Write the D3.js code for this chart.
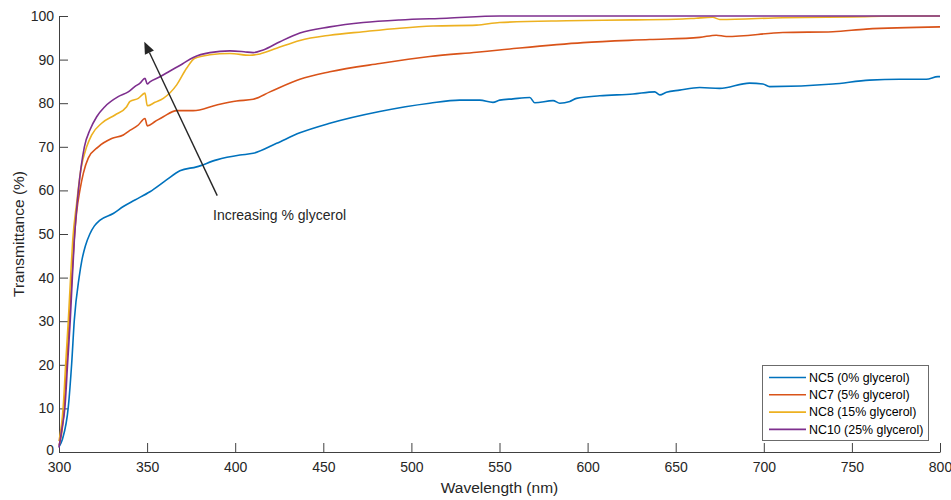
<!DOCTYPE html>
<html>
<head>
    <meta charset="UTF-8">
    <title>Transmittance</title>
    <script src="https://cdn.jsdelivr.net/npm/d3@7"></script>
    <style>
        body {
            margin: 0;
            background: #fff;
            font-family: 'Liberation Sans', Arial, sans-serif;
        }
        .tick text {
            font-size: 14px;
            fill: #262626;
        }
        .axis-label {
            font-size: 15.5px;
            fill: #262626;
        }
        .legend text {
            font-size: 12.4px;
            fill: #000;
        }
    </style>
</head>
<body>
<div id="chart"></div>
<script>
    // tick values
    const xTicks = [300, 350, 400, 450, 500, 550, 600, 650, 700, 750, 800];
    const yTicks = [0, 10, 20, 30, 40, 50, 60, 70, 80, 90, 100];

    // series names and colours
    const seriesNames = ["NC5 (0% glycerol)", "NC7 (5% glycerol)", "NC8 (15% glycerol)", "NC10 (25% glycerol)"];
    const seriesColors = ["#0072BD", "#D95319", "#EDB120", "#7E2F8E"];

    // NC5
    const nc5Wl = [300, 302, 305.3, 307.2, 308.7, 311.4, 313, 315, 317.5, 320, 323.3, 330.8, 336.5, 343.1, 351.6, 361, 368.6, 378.1, 389.5, 402.7, 410.2, 423.5, 436.7, 453.7, 482, 510.4, 527.4, 538.8, 546.3, 550.1, 557.7, 567.2, 570, 580.4, 584.2, 589.9, 593.7, 606.9, 625.8, 638.1, 641, 644.7, 652.2, 663.6, 674.9, 691.9, 699.5, 703.3, 739.2, 760, 777, 792.2, 798.8, 800];
    const nc5T = [1.2, 3, 10.4, 20.3, 30.3, 40, 44, 47.3, 50, 51.8, 53.2, 54.7, 56.3, 57.8, 59.7, 62.4, 64.5, 65.4, 67, 68.1, 68.5, 70.8, 73.2, 75.4, 78.1, 80, 80.7, 80.7, 80.2, 80.7, 81, 81.3, 80.1, 80.6, 80, 80.4, 81.1, 81.7, 82.1, 82.6, 81.9, 82.5, 83, 83.6, 83.4, 84.6, 84.4, 83.8, 84.4, 85.3, 85.5, 85.5, 86.1, 86.1];

    // NC7
    const nc7Wl = [300, 302.5, 304, 305.5, 307, 308.5, 310, 311.9, 313.8, 316.6, 322.3, 329.9, 336.5, 339.3, 345, 348.8, 350.1, 354.5, 359.2, 366.8, 376.2, 389.5, 400.8, 410.2, 419.7, 436.7, 453.7, 482, 510.4, 537, 550, 597.4, 635.2, 663.6, 673, 678.7, 710.8, 739.2, 758, 800];
    const nc7T = [1.5, 8, 18, 28, 38, 48, 55, 60.1, 63.9, 67.4, 70, 71.9, 72.7, 73.5, 75, 76.5, 74.8, 75.8, 76.9, 78.3, 78.3, 79.6, 80.5, 80.9, 82.6, 85.5, 87.2, 89.1, 90.7, 91.7, 92.2, 93.9, 94.6, 95.1, 95.6, 95.3, 96.2, 96.4, 97, 97.5];

    // NC8
    const nc8Wl = [300, 302.4, 303.8, 305.3, 306.6, 307.8, 310, 312.5, 315.7, 318.5, 324.2, 331.8, 338.4, 340.3, 345, 348.8, 350.1, 354.5, 359.2, 366.8, 372.4, 377.1, 385.6, 397, 408.3, 414, 423.5, 436.7, 453.7, 472.6, 493.4, 512.3, 537, 550, 588, 625.6, 654, 661.6, 671, 675, 710.7, 750, 780, 800];
    const nc8T = [2.5, 10.4, 20.3, 30.3, 40.2, 48.6, 57, 65, 70, 72.7, 75.4, 77.3, 79.2, 80.4, 81.1, 82.3, 79.4, 80.2, 81.1, 84.2, 88, 90.3, 91.1, 91.4, 91, 91.3, 92.6, 94.4, 95.6, 96.4, 97.2, 97.7, 97.9, 98.5, 98.9, 99.1, 99.3, 99.5, 99.7, 99.2, 99.6, 99.8, 100, 100];

    // NC10
    const nc10Wl = [300, 301.5, 303.4, 304.9, 306.4, 307.6, 308.7, 311, 314.4, 317.6, 321.4, 326, 333.6, 339.3, 343, 346, 348.8, 350.1, 351.6, 357, 363, 370, 376.2, 385.6, 397, 405, 410.2, 415.9, 425.4, 436.7, 453.7, 472.6, 493.4, 520, 550, 800];
    const nc10T = [1, 5, 10.4, 20.4, 30.3, 40.2, 48.6, 60, 70, 73.9, 76.9, 79.2, 81.5, 82.6, 83.8, 84.6, 85.7, 84.4, 84.9, 86, 87.4, 89, 90.5, 91.6, 92, 91.8, 91.6, 92.2, 94.1, 96.1, 97.5, 98.5, 99.1, 99.5, 100, 100];

    // arrow annotation: tail and tip in data units
    const arrowFrom = [389.8, 58.8];
    const arrowTo = [348.4, 94.1];
    const arrowText = "Increasing % glycerol";

    const series = [
        [nc5Wl, nc5T],
        [nc7Wl, nc7T],
        [nc8Wl, nc8T],
        [nc10Wl, nc10T]
    ].map((s, i) => ({
        name: seriesNames[i],
        color: seriesColors[i],
        points: s[0].map((w, j) => [w, s[1][j]])
    }));

    const width = 951;
    const height = 500;
    const margin = { top: 16, right: 11, bottom: 48, left: 59 };

    const svg = d3.select("#chart").append("svg")
        .attr("width", width)
        .attr("height", height);

    const x = d3.scaleLinear().domain([300, 800]).range([margin.left, width - margin.right]);
    const y = d3.scaleLinear().domain([0, 100]).range([height - margin.bottom, margin.top]);

    // axes (MATLAB style: ticks inside)
    const xAxis = svg.append("g")
        .attr("transform", "translate(0," + y(0) + ")")
        .call(d3.axisBottom(x).tickValues(xTicks).tickSizeInner(-9).tickSizeOuter(0).tickPadding(10));
    const yAxis = svg.append("g")
        .attr("transform", "translate(" + x(300) + ",0)")
        .call(d3.axisLeft(y).tickValues(yTicks).tickSizeInner(-9).tickSizeOuter(0).tickPadding(5));

    [xAxis, yAxis].forEach(a => {
        a.select(".domain").attr("stroke", "#404040");
        a.selectAll(".tick line").attr("stroke", "#404040");
    });

    // keep the "0" clear of the "300" below it
    yAxis.selectAll(".tick text").filter(d => d === 0).attr("dy", "0.18em");

    svg.append("text")
        .attr("class", "axis-label")
        .attr("x", (x(300) + x(800)) / 2)
        .attr("y", 493)
        .attr("text-anchor", "middle")
        .text("Wavelength (nm)");

    svg.append("text")
        .attr("class", "axis-label")
        .attr("transform", "translate(24," + (y(50)) + ") rotate(-90)")
        .attr("text-anchor", "middle")
        .text("Transmittance (%)");

    // the curves
    const line = d3.line()
        .x(d => x(d[0]))
        .y(d => y(d[1]))
        .curve(d3.curveMonotoneX);

    svg.selectAll(".curve")
        .data(series)
        .enter().append("path")
        .attr("class", "curve")
        .attr("d", d => line(d.points))
        .attr("fill", "none")
        .attr("stroke", d => d.color)
        .attr("stroke-width", 1.6);

    // arrow
    const x1 = x(arrowFrom[0]), y1 = y(arrowFrom[1]);
    const x2 = x(arrowTo[0]), y2 = y(arrowTo[1]);
    const ang = Math.atan2(y2 - y1, x2 - x1);
    const headLen = 12, headW = 5;
    const bx = x2 - headLen * Math.cos(ang), by = y2 - headLen * Math.sin(ang);

    svg.append("line")
        .attr("x1", x1).attr("y1", y1)
        .attr("x2", bx).attr("y2", by)
        .attr("stroke", "#262626")
        .attr("stroke-width", 1.4);

    svg.append("path")
        .attr("d", "M" + x2 + "," + y2 +
            "L" + (bx + headW * Math.sin(ang)) + "," + (by - headW * Math.cos(ang)) +
            "L" + (bx - headW * Math.sin(ang)) + "," + (by + headW * Math.cos(ang)) + "Z")
        .attr("fill", "#262626");

    svg.append("text")
        .attr("x", 213)
        .attr("y", 220)
        .attr("font-size", "14px")
        .attr("fill", "#262626")
        .text(arrowText);

    // legend
    const legend = svg.append("g").attr("class", "legend");
    legend.append("rect")
        .attr("x", 762.5).attr("y", 365.5)
        .attr("width", 166).attr("height", 75)
        .attr("fill", "#fff")
        .attr("stroke", "#6b6b6b");

    series.forEach((s, i) => {
        const ly = 377.5 + i * 17.3;
        legend.append("line")
            .attr("x1", 769).attr("x2", 806)
            .attr("y1", ly).attr("y2", ly)
            .attr("stroke", s.color)
            .attr("stroke-width", 1.6);
        legend.append("text")
            .attr("x", 809).attr("y", ly + 4.3)
            .text(s.name);
    });
</script>
</body>
</html>
